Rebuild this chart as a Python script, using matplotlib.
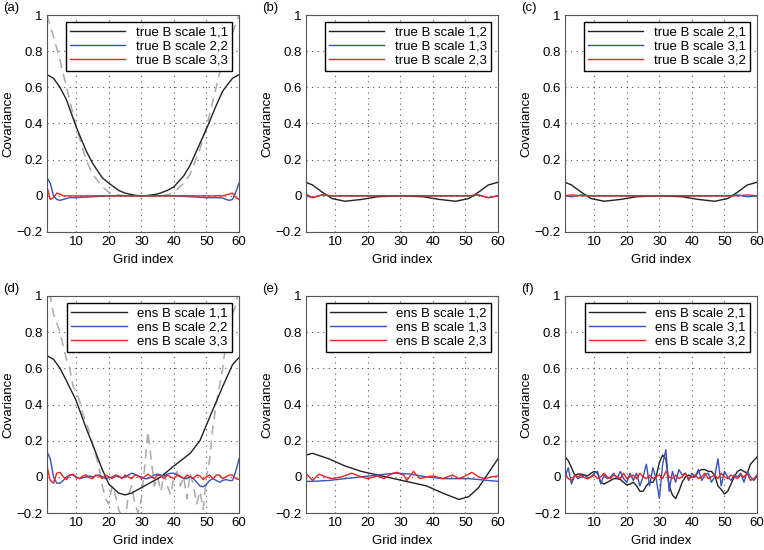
import matplotlib
matplotlib.use("Agg")
import matplotlib.pyplot as plt

plt.rcParams['font.family'] = ['Liberation Sans', 'DejaVu Sans']
plt.rcParams['font.size'] = 9.5

# ---- data ----
xs_s = [1, 3, 5, 7, 10, 13, 15, 18, 20, 23, 25, 28, 30, 32, 35, 38, 40, 43, 45, 48, 50, 53, 55, 58, 60]
a_black = [0.67, 0.65, 0.6, 0.53, 0.38, 0.25, 0.18, 0.1, 0.07, 0.03, 0.015, 0.003, 0.0, 0.002, 0.01, 0.03, 0.05, 0.11, 0.17, 0.29, 0.37, 0.5, 0.58, 0.65, 0.67]
a_grey = [1.0, 0.88, 0.75, 0.6, 0.38, 0.2, 0.12, 0.05, 0.02, 0.005, 0.0, 0.0, 0.0, 0.0, 0.0, 0.005, 0.02, 0.07, 0.12, 0.26, 0.38, 0.6, 0.75, 0.9, 1.0]
xs_e = [1, 2, 3, 4, 5, 6, 8, 10, 20, 30, 40, 50, 53, 55, 56, 57, 58, 59, 60]
a_blue = [0.1, 0.07, 0.0, -0.02, -0.025, -0.02, -0.01, -0.01, 0.0, 0.0, 0.0, -0.01, -0.01, -0.012, -0.02, -0.025, -0.02, 0.02, 0.07]
a_red = [0.05, -0.02, -0.01, 0.015, 0.01, 0.0, 0.0, 0.0, 0.0, 0.0, 0.0, 0.0, 0.0, 0.0, 0.005, 0.01, 0.015, -0.01, -0.02]

xs_b = [1, 3, 6, 9, 13, 18, 23, 30, 37, 42, 47, 51, 54, 57, 60]
b_black = [0.075, 0.06, 0.02, -0.015, -0.03, -0.02, -0.005, 0.0, -0.005, -0.02, -0.03, -0.015, 0.02, 0.06, 0.075]
b_blue = [0.0, -0.01, 0.005, 0.0, 0.0, 0.0, 0.0, 0.0, 0.0, 0.0, 0.0, 0.0, 0.005, -0.01, 0.0]
b_red = [0.01, -0.01, 0.005, 0.0, 0.0, 0.0, 0.0, 0.0, 0.0, 0.0, 0.0, 0.0, 0.005, -0.01, 0.0]
c_black = [0.075, 0.06, 0.02, -0.015, -0.03, -0.02, -0.005, 0.0, -0.005, -0.02, -0.03, -0.015, 0.02, 0.06, 0.075]
c_blue = [0.0, -0.005, 0.005, 0.0, 0.0, 0.0, 0.0, 0.0, 0.0, 0.0, 0.0, 0.0, 0.005, -0.005, 0.0]
c_red = [0.0, 0.005, 0.0, 0.0, 0.0, 0.0, 0.0, 0.0, 0.0, 0.0, 0.0, 0.0, 0.0, 0.005, 0.0]

xs_d = [1, 3, 5, 7, 10, 13, 15, 18, 20, 23, 25, 27, 30, 33, 36, 40, 45, 48, 51, 55, 58, 60]
d_black = [0.67, 0.65, 0.6, 0.53, 0.42, 0.27, 0.18, 0.04, -0.04, -0.09, -0.1, -0.09, -0.06, -0.03, 0.0, 0.06, 0.13, 0.2, 0.33, 0.5, 0.62, 0.66]

grid = list(range(1, 61))
d_grey = [1.1, 1.0, 0.9, 0.85, 0.8, 0.72, 0.65, 0.6, 0.5, 0.47, 0.42, 0.35, 0.3, 0.25, 0.18, 0.12, 0.05, -0.05, -0.12, -0.15,
          -0.05, -0.1, -0.18, -0.22, -0.25, -0.1, -0.05, -0.15, -0.2, -0.12, 0.05, 0.25, 0.1, -0.05, 0.0, -0.08, 0.02, -0.05, -0.1, 0.0,
          0.03, -0.05, 0.0, -0.12, 0.02, -0.05, -0.15, -0.08, -0.18, 0.0, 0.1, 0.28, 0.4, 0.5, 0.6, 0.75, 0.85, 0.9, 0.95, 1.05]
d_blue = [0.14, 0.1, 0.0, -0.035, -0.035, -0.02, 0.0, 0.01, 0.01, 0.0, -0.01, -0.005, 0.0, 0.005, 0.0, 0.005, 0.01, 0.0, -0.01, -0.005,
          0.0, 0.005, 0.0, -0.005, 0.0, 0.01, 0.02, 0.015, 0.005, 0.0, -0.01, -0.01, 0.0, 0.01, 0.015, 0.01, 0.005, 0.015, 0.02, 0.02,
          0.01, 0.0, -0.01, -0.01, 0.0, -0.01, -0.03, -0.05, -0.055, -0.04, -0.02, -0.01, -0.02, -0.03, -0.02, -0.015, -0.02, -0.02, 0.03, 0.1]
d_red = [0.06, -0.02, -0.035, 0.02, 0.025, 0.0, -0.015, 0.01, 0.015, -0.005, -0.01, 0.005, 0.01, -0.005, -0.01, 0.01, 0.005, -0.01, 0.01, 0.0,
         -0.01, 0.01, 0.005, -0.01, 0.01, 0.0, -0.01, 0.01, 0.005, -0.01, 0.0, 0.015, 0.0, -0.01, 0.01, 0.005, -0.01, 0.01, 0.0, -0.01,
         0.01, 0.005, -0.01, 0.01, 0.0, -0.01, 0.01, 0.005, -0.015, 0.0, 0.01, -0.01, 0.01, 0.01, -0.01, 0.0, 0.01, 0.01, -0.01, -0.015]

xs_f = [1, 3, 8, 13, 18, 23, 28, 33, 38, 43, 48, 51, 54, 57, 60]
e_black = [0.12, 0.13, 0.1, 0.06, 0.03, 0.01, -0.01, -0.03, -0.05, -0.09, -0.125, -0.11, -0.06, 0.02, 0.1]
e_blue = [-0.025, -0.025, -0.02, -0.01, 0.0, 0.01, 0.02, 0.015, 0.0, -0.01, -0.01, -0.01, -0.015, -0.02, -0.025]
xs_r = [1, 3, 5, 7, 9, 12, 15, 18, 20, 23, 25, 27, 29, 31, 32, 34, 36, 38, 40, 43, 46, 48, 50, 52, 54, 56, 58, 60]
e_red = [0.02, -0.02, 0.015, 0.0, -0.01, 0.0, 0.02, 0.0, -0.01, 0.005, -0.01, 0.015, 0.025, 0.01, -0.02, 0.03, -0.01, 0.0, 0.005,
         -0.01, 0.01, -0.01, 0.005, 0.025, 0.0, -0.01, 0.0, 0.005]

f_black = [0.11, 0.09, 0.05, 0.01, 0.015, 0.015, 0.01, 0.005, 0.02, 0.03, 0.02, -0.03, -0.04, -0.03, -0.02, -0.01, -0.01, -0.015, -0.03, -0.045,
           -0.04, -0.03, -0.05, -0.08, -0.08, -0.05, -0.03, -0.03, 0.0, 0.08, 0.12, 0.1, -0.05, -0.1, -0.12, -0.08, -0.03, 0.0, 0.01, 0.0,
           0.0, 0.03, 0.04, 0.04, 0.03, 0.03, 0.01, -0.05, -0.07, -0.095, -0.08, -0.04, 0.0, 0.03, 0.04, 0.03, 0.02, 0.07, 0.09, 0.11]
f_blue = [0.0, 0.05, -0.04, 0.01, -0.01, 0.0, 0.01, -0.01, 0.0, 0.02, 0.03, -0.04, 0.01, -0.01, 0.0, 0.02, -0.01, 0.03, -0.01, -0.03,
          0.02, -0.02, 0.02, -0.05, 0.0, 0.07, -0.05, 0.05, -0.01, -0.12, 0.07, 0.15, -0.08, 0.03, -0.03, 0.04, 0.01, 0.02, -0.02, 0.02,
          0.0, 0.04, -0.02, 0.01, 0.02, -0.03, 0.0, 0.1, -0.05, 0.03, 0.0, -0.02, 0.01, 0.0, 0.02, -0.03, 0.03, 0.0, -0.02, 0.0]
f_red = [0.02, -0.01, -0.02, 0.01, 0.0, 0.01, -0.005, -0.01, 0.0, 0.01, -0.01, 0.0, 0.02, 0.0, -0.01, 0.01, 0.0, -0.01, 0.02, -0.01,
         0.0, 0.01, -0.01, 0.02, 0.0, -0.01, 0.01, -0.01, 0.0, 0.01, -0.01, 0.03, 0.0, -0.01, 0.01, -0.01, 0.0, 0.02, -0.01, 0.0,
         0.01, -0.01, 0.0, 0.02, -0.01, 0.0, 0.01, -0.01, 0.02, 0.0, -0.01, 0.01, 0.0, -0.01, 0.01, 0.0, 0.02, -0.02, -0.01, 0.01]

panels = [
    ('(a)', 'true', ['1,1', '2,2', '3,3'], (xs_s, a_black), (xs_e, a_blue), (xs_e, a_red), (xs_s, a_grey)),
    ('(b)', 'true', ['1,2', '1,3', '2,3'], (xs_b, b_black), (xs_b, b_blue), (xs_b, b_red), None),
    ('(c)', 'true', ['2,1', '3,1', '3,2'], (xs_b, c_black), (xs_b, c_blue), (xs_b, c_red), None),
    ('(d)', 'ens', ['1,1', '2,2', '3,3'], (xs_d, d_black), (grid, d_blue), (grid, d_red), (grid, d_grey)),
    ('(e)', 'ens', ['1,2', '1,3', '2,3'], (xs_f, e_black), (xs_f, e_blue), (xs_r, e_red), None),
    ('(f)', 'ens', ['2,1', '3,1', '3,2'], (grid, f_black), (grid, f_blue), (grid, f_red), None),
]

W, H = 764, 550
lefts = [47, 306, 565]
bottoms = [H - 232, H - 513]
aw, ah = 192, 217

fig = plt.figure(figsize=(W / 100, H / 100), dpi=100)
for i, (tag, kind, pairs, blk, blu, red, grey) in enumerate(panels):
    r, c = divmod(i, 3)
    ax = fig.add_axes([lefts[c] / W, bottoms[r] / H, aw / W, ah / H])
    if grey is not None:
        ax.plot(grey[0], grey[1], color='#aaaaaa', ls=(0, (6, 4)), lw=1.1)
    ax.plot(blk[0], blk[1], color='#222222', lw=1.0, label=kind + ' B scale ' + pairs[0])
    ax.plot(blu[0], blu[1], color='#3355bb', lw=1.0, label=kind + ' B scale ' + pairs[1])
    ax.plot(red[0], red[1], color='#ee2222', lw=1.0, label=kind + ' B scale ' + pairs[2])
    ax.set_xlim(1, 60)
    ax.set_ylim(-0.2, 1)
    ax.set_xticks([10, 20, 30, 40, 50, 60])
    ax.set_yticks([-0.2, 0, 0.2, 0.4, 0.6, 0.8, 1])
    ax.set_yticklabels(['\u22120.2', '0', '0.2', '0.4', '0.6', '0.8', '1'])
    ax.grid(True, ls=(0, (1, 4)), color='#555555', lw=0.8)
    ax.tick_params(length=0, pad=3)
    for s in ax.spines.values():
        s.set_color('#555555')
    ax.set_xlabel('Grid index', labelpad=4)
    ax.set_ylabel('Covariance', labelpad=2)
    ax.text(-0.23, 1.03, tag, transform=ax.transAxes, va='center', ha='left')
    leg = ax.legend(loc='upper right', fancybox=False, edgecolor='black', framealpha=1,
                    borderaxespad=0.55, handlelength=4.2, labelspacing=0.15, handletextpad=0.8,
                    borderpad=0.3)
    leg.get_frame().set_linewidth(1.0)

fig.savefig('out.png', dpi=100)
